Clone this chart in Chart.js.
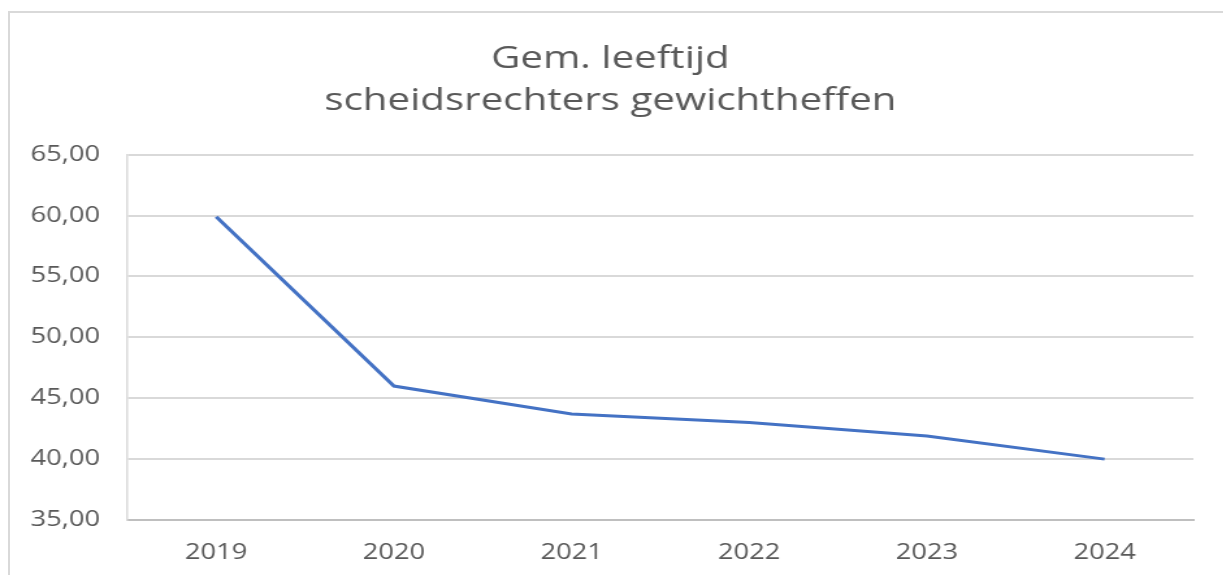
<!DOCTYPE html>
<html lang="nl">
<head>
    <meta charset="UTF-8">
    <title>Gem. leeftijd scheidsrechters gewichtheffen</title>
    <style>
        html, body {
            margin: 0;
            padding: 0;
            background: #fff;
            overflow: hidden;
        }
        .frame {
            position: absolute;
            left: 8px;
            top: 11px;
            width: 1215px;
            height: 564px;
            border-left: 2px solid #d9d9d9;
            border-top: 2px solid #d9d9d9;
        }
        /* the original picture is stretched sideways, so the chart is too */
        .chart-container {
            position: absolute;
            left: 0;
            top: 0;
            width: 941px;
            height: 575px;
            transform: scaleX(1.3);
            transform-origin: 0 0;
        }
    </style>
    <script src="https://cdn.jsdelivr.net/npm/chart.js"></script>
</head>
<body>
    <div class="frame"></div>
    <div class="chart-container">
        <canvas id="ageChart"></canvas>
    </div>

    <script>
        // Data
        const years = ['2019', '2020', '2021', '2022', '2023', '2024'];
        const averageAge = [59.9, 46.0, 43.7, 43.0, 41.9, 40.0];
        const titleLines = ['Gem. leeftijd', 'scheidsrechters gewichtheffen'];

        const textColor = '#595959';

        const ctx = document.getElementById('ageChart').getContext('2d');
        new Chart(ctx, {
            type: 'line',
            data: {
                labels: years,
                datasets: [{
                    label: 'Gem. leeftijd',
                    data: averageAge,
                    borderColor: '#4472C4',
                    borderWidth: 3,
                    pointRadius: 0,
                    tension: 0,
                    fill: false
                }]
            },
            options: {
                responsive: true,
                maintainAspectRatio: false,
                animation: false,
                layout: {
                    padding: { left: 21, right: 23, top: 0, bottom: 0 }
                },
                plugins: {
                    legend: { display: false },
                    tooltip: { enabled: false },
                    title: {
                        display: true,
                        text: titleLines,
                        color: textColor,
                        font: { family: 'Open Sans', size: 31, weight: 'normal', lineHeight: 1.35 },
                        padding: { top: 38, bottom: 33 }
                    }
                },
                scales: {
                    x: {
                        offset: true,
                        grid: { display: false, drawTicks: false },
                        border: { display: true, color: '#bfbfbf', width: 2 },
                        ticks: {
                            color: textColor,
                            font: { family: 'Open Sans', size: 21 },
                            padding: 20
                        },
                        afterFit: function (scale) { scale.height = 55; }
                    },
                    y: {
                        min: 35,
                        max: 65,
                        grid: { color: '#d9d9d9', lineWidth: 2, drawTicks: false },
                        border: { display: true, color: '#d9d9d9', width: 1.5 },
                        ticks: {
                            stepSize: 5,
                            color: textColor,
                            font: { family: 'Open Sans', size: 21 },
                            padding: 21,
                            callback: function (value) {
                                return value.toFixed(2).replace('.', ',');
                            }
                        },
                        afterFit: function (scale) { scale.width = 77; }
                    }
                }
            }
        });
    </script>
</body>
</html>
